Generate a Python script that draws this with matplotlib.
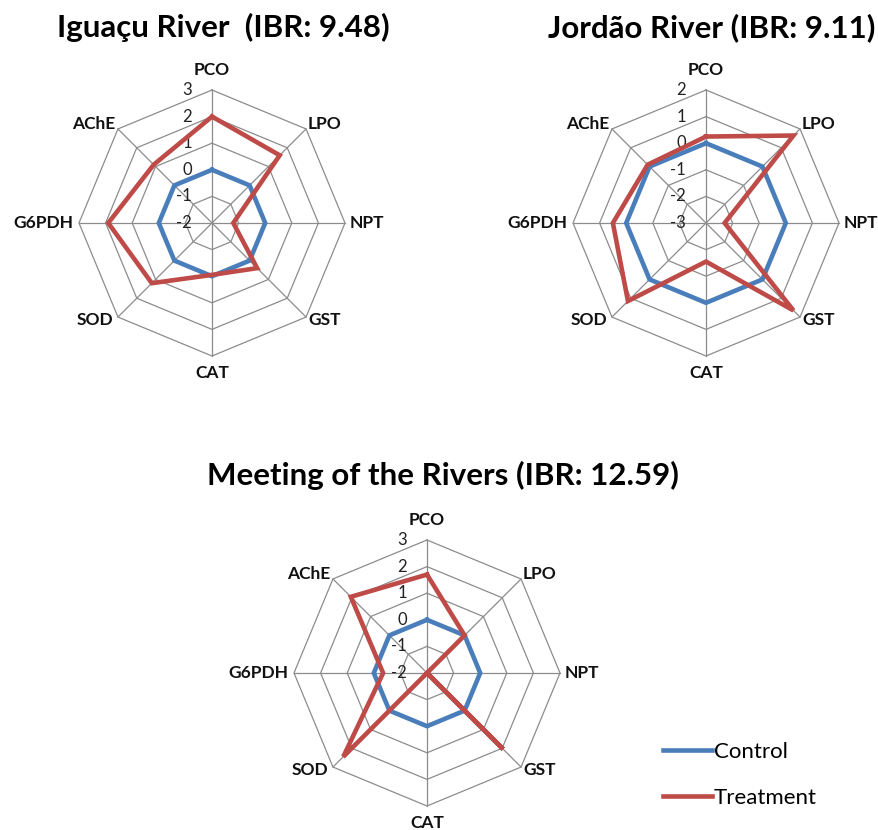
import numpy as np
import matplotlib
matplotlib.use('Agg')
import matplotlib.pyplot as plt
from matplotlib.lines import Line2D

plt.rcParams['font.family'] = ['Lato', 'DejaVu Sans']

categories = ['PCO', 'LPO', 'NPT', 'GST', 'CAT', 'SOD', 'G6PDH', 'AChE']

iguacu_control = [0, 0, 0, 0, 0, 0, 0, 0]
iguacu_treatment = [2.0, 1.6, -1.2, 0.4, -0.05, 1.2, 1.9, 1.1]

jordao_control = [0, 0, 0, 0, 0, 0, 0, 0]
jordao_treatment = [0.25, 1.65, -2.3, 1.65, -1.55, 1.15, 0.5, 0.1]

meeting_control = [0, 0, 0, 0, 0, 0, 0, 0]
meeting_treatment = [1.7, 0.0, -2.0, 2.05, -2.0, 2.45, -0.35, 2.05]

W, H = 879, 830
BLUE = '#4a7ebb'
RED = '#be4b48'
GRID = '#8c8c8c'

fig = plt.figure(figsize=(W / 100, H / 100), dpi=100)

# label offsets in px: (dx, dy, ha)
lab_off = {
    'PCO': (0, 20, 'center'), 'LPO': (2, 5, 'left'), 'NPT': (5, 0, 'left'),
    'GST': (2, -3, 'left'), 'CAT': (0, -17, 'center'), 'SOD': (-5, -3, 'right'),
    'G6PDH': (-6, 0, 'right'), 'AChE': (-3, 5, 'right'),
}
PX = 0.72  # points per pixel at dpi 100


def radar(cx, cy, vmin, vmax, control, treatment):
    R = 133.0
    half = 200.0
    ax = fig.add_axes([(cx - half) / W, (H - cy - half) / H, 2 * half / W, 2 * half / H])
    span = vmax - vmin
    lim = half / R * span
    ax.set_xlim(-lim, lim)
    ax.set_ylim(-lim, lim)
    ax.axis('off')
    n = len(categories)
    ang = np.pi / 2 - 2 * np.pi * np.arange(n) / n
    ux, uy = np.cos(ang), np.sin(ang)
    for k in range(1, span + 1):
        ax.plot(np.append(ux, ux[0]) * k, np.append(uy, uy[0]) * k, color=GRID, lw=0.9, zorder=1)
    for i in range(n):
        ax.plot([0, ux[i] * span], [0, uy[i] * span], color=GRID, lw=0.9, zorder=1)
    for vals, col in ((control, BLUE), (treatment, RED)):
        r = np.array(vals, dtype=float) - vmin
        xs, ys = r * ux, r * uy
        ax.plot(np.append(xs, xs[0]), np.append(ys, ys[0]), color=col, lw=3.3,
                solid_joinstyle='miter', zorder=3)
    for k in range(span + 1):
        ax.annotate(str(vmin + k), xy=(0, k), xytext=(-20 * PX, 0), textcoords='offset points',
                    ha='right', va='center', fontsize=12, color='#222222', zorder=2)
    for i, c in enumerate(categories):
        dx, dy, ha = lab_off[c]
        ax.annotate(c, xy=(ux[i] * span, uy[i] * span), xytext=(dx * PX, dy * PX),
                    textcoords='offset points', ha=ha, va='center', fontsize=12.5,
                    fontweight='bold', color='#111111', annotation_clip=False)
    return ax


radar(212, 223, -2, 3, iguacu_control, iguacu_treatment)
radar(706, 223, -3, 2, jordao_control, jordao_treatment)
radar(427, 673, -2, 3, meeting_control, meeting_treatment)

fig.text(223 / W, 1 - 37 / H, 'Iguaçu River  (IBR: 9.48)', ha='center', va='baseline',
         fontsize=22.5, fontweight='bold')
fig.text(712 / W, 1 - 37 / H, 'Jordão River (IBR: 9.11)', ha='center', va='baseline',
         fontsize=22.5, fontweight='bold')
fig.text(443 / W, 1 - 485 / H, 'Meeting of the Rivers (IBR: 12.59)', ha='center', va='baseline',
         fontsize=22.5, fontweight='bold')

handles = [Line2D([], [], color=BLUE, lw=3.3), Line2D([], [], color=RED, lw=3.3)]
fig.legend(handles, ['Control', 'Treatment'], loc='center left',
           bbox_to_anchor=(663 / W, 1 - 775 / H), frameon=False, fontsize=16,
           handlelength=2.2, handletextpad=0.1, labelspacing=1.15,
           borderpad=0, borderaxespad=0)

fig.savefig('out.png', dpi=100, facecolor='w')
